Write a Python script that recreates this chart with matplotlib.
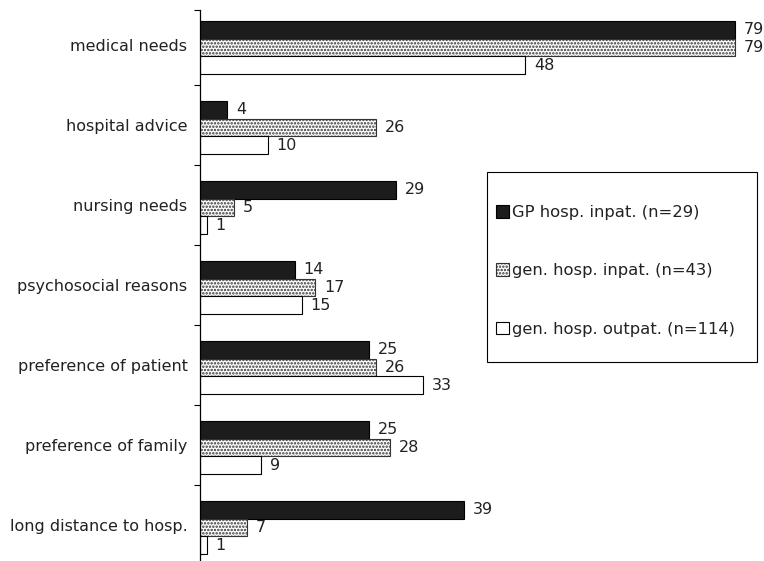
import numpy as np
import matplotlib
matplotlib.use("Agg")
import matplotlib.pyplot as plt
from matplotlib.patches import Rectangle

plt.rcParams["font.family"] = ["DejaVu Sans"]
plt.rcParams["hatch.linewidth"] = 1.2

categories = ["medical needs", "hospital advice", "nursing needs", "psychosocial reasons",
              "preference of patient", "preference of family", "long distance to hosp."]
gp_inpat = [79, 4, 29, 14, 25, 25, 39]
gen_inpat = [79, 26, 5, 17, 26, 28, 7]
gen_outpat = [48, 10, 1, 15, 33, 9, 1]
series_labels = ["GP hosp. inpat. (n=29)", "gen. hosp. inpat. (n=43)", "gen. hosp. outpat. (n=114)"]

W, H = 764, 561
fig = plt.figure(figsize=(W / 100, H / 100), dpi=100)
ax = fig.add_axes([200 / W, -4 / H, 564 / W, 555 / H])

y = np.arange(len(categories))
h = 0.22
styles = [
    dict(color="#1c1c1c", edgecolor="black"),
    dict(color="white", edgecolor="#333333", hatch="....."),
    dict(color="white", edgecolor="black"),
]
all_vals = [gp_inpat, gen_inpat, gen_outpat]
for i, (vals, st, lab) in enumerate(zip(all_vals, styles, series_labels)):
    bars = ax.barh(y + (i - 1) * h + 0.03, vals, height=h, linewidth=0.8, label=lab, **st)
    for b, v in zip(bars, vals):
        ax.text(v + 1.3, b.get_y() + b.get_height() / 2, str(v), va="center", ha="left",
                fontsize=11.5, color="#222222")

ax.set_xlim(0, 83.3)
ax.set_ylim(len(categories) - 0.5, -0.4375)
ax.set_yticks(y)
ax.set_yticklabels(categories, fontsize=11.5, color="#222222")
ax.tick_params(axis="y", which="major", length=0, pad=9)
ax.set_yticks([-0.4375] + (y[:-1] + 0.5).tolist(), minor=True)
ax.tick_params(axis="y", which="minor", length=4, width=0.8, direction="out")
ax.set_xticks([])
for s in ["top", "right", "bottom"]:
    ax.spines[s].set_visible(False)
ax.spines["left"].set_linewidth(0.9)

# legend box drawn separately: wide vertical padding, narrow horizontal padding
fig.patches.append(Rectangle((487 / W, 1 - 362 / H), 270 / W, 190 / H, transform=fig.transFigure,
                             facecolor="white", edgecolor="black", linewidth=0.8, zorder=2))
leg = fig.legend(loc="upper left", bbox_to_anchor=(496 / W, 1 - 205 / H), fontsize=11.8,
                 labelspacing=2.65, borderpad=0, handlelength=0.8, handleheight=0.8,
                 handletextpad=0.15, borderaxespad=0, frameon=False)
leg.set_zorder(3)
for t in leg.get_texts():
    t.set_color("#222222")

fig.savefig("out.png", dpi=100)
